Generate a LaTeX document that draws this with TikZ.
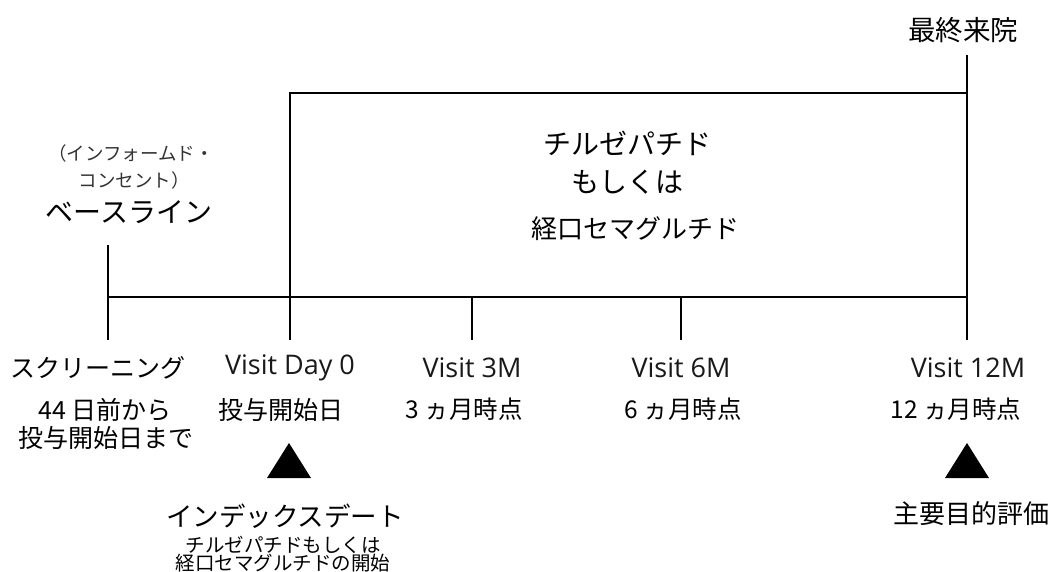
\documentclass[tikz,border=0pt]{standalone}
\usepackage{fontspec}
\setmainfont{Noto Sans CJK JP}
\newfontfamily\latinfont{Open Sans}
\begin{document}
\begin{tikzpicture}[x=1pt,y=-1pt,
  ln/.style={line width=2.8pt},
  lbl/.style={inner sep=0pt,anchor=center,font=\fontsize{#1}{#1}\selectfont},
  vis/.style={inner sep=0pt,anchor=center,font=\latinfont\fontsize{27}{27}\selectfont,text=black!90},
  tri/.style={fill=black}]
\useasboundingbox (0,0) rectangle (1053,572);
% coordinates
\coordinate (bl0) at (108,245);
\coordinate (bl1) at (108,340);
\coordinate (h0) at (108,297);
\coordinate (d0t) at (290,93);
\coordinate (d0b) at (290,340);
\coordinate (m3t) at (472,297);
\coordinate (m3b) at (472,340);
\coordinate (m6t) at (681,297);
\coordinate (m6b) at (681,340);
\coordinate (m12t) at (967,55);
\coordinate (m12b) at (967,340);
\coordinate (bxtr) at (967,93);
\coordinate (bxbr) at (967,297);
% lines
\draw[ln] (bl0) -- (bl1);
\draw[ln] (h0) -- (bxbr);
\draw[ln] (d0b) -- (d0t) -- (bxtr);
\draw[ln] (m3t) -- (m3b);
\draw[ln] (m6t) -- (m6b);
\draw[ln] (m12t) -- (m12b);
% top texts
\node[lbl=27.5] (last) at (963,30) {最終来院};
\node[lbl=18.5,text=black!80] (ic1) at (131,153) {（インフォームド・};
\node[lbl=18.5,text=black!80] (ic2) at (134,180) {コンセント）};
\node[lbl=28] (base) at (129,212) {ベースライン};
% box text
\node[lbl=28] (b1) at (627,143) {チルゼパチド};
\node[lbl=28] (b2) at (627,182) {もしくは};
\node[lbl=26] (b3) at (635,229) {経口セマグルチド};
% row 1
\node[lbl=25] (scr) at (98,368) {スクリーニング};
\node[vis] (v0) at (290,368) {Visit Day 0};
\node[vis] (v3) at (472,368) {Visit 3M};
\node[vis] (v6) at (681,368) {Visit 6M};
\node[vis] (v12) at (968,368) {Visit 12M};
% row 2
\node[lbl=25] (s1) at (105,410) {44 日前から};
\node[lbl=25] (s2) at (106,438) {投与開始日まで};
\node[lbl=25] (d0) at (281,410) {投与開始日};
\node[lbl=24.5] (t3) at (464,409) {3 ヵ月時点};
\node[lbl=24.5] (t6) at (683,409) {6 ヵ月時点};
\node[lbl=24.5] (t12) at (956,409) {12 ヵ月時点};
% triangles
\fill[tri] (289,443) -- (311,478) -- (267,478) -- cycle;
\fill[tri] (967,443) -- (989,478) -- (945,478) -- cycle;
% bottom texts
\node[lbl=26.5] (idx) at (285,516) {インデックスデート};
\node[lbl=19.5] (idx2) at (283,545) {チルゼパチドもしくは};
\node[lbl=19.5] (idx3) at (283,563) {経口セマグルチドの開始};
\node[lbl=26] (pri) at (971,514) {主要目的評価};
\end{tikzpicture}
\end{document}
